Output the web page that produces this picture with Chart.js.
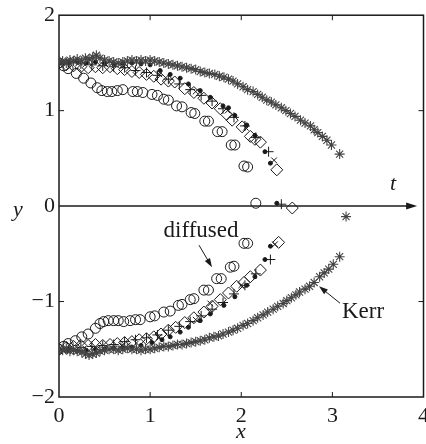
<!DOCTYPE html>
<html>
<head>
<meta charset="utf-8">
<script src="https://cdn.jsdelivr.net/npm/chart.js@4/dist/chart.umd.min.js"></script>
<style>
html,body{margin:0;padding:0;background:#fff;overflow:hidden;}
#wrap{position:relative;width:426px;height:444px;overflow:hidden;}
#c{position:absolute;left:0;top:0;}
</style>
</head>
<body>
<div id="wrap"><canvas id="c" width="426" height="444"></canvas></div>
<script>
// ---- data ----
const xTicks = [0, 1, 2, 3, 4];
const yTicks = [-2, -1, 0, 1, 2];

const diffusedTop = [[0.00,1.50],[0.05,1.47],[0.10,1.44],[0.19,1.39],[0.27,1.34],[0.35,1.29],[0.42,1.24],[0.47,1.21],[0.53,1.20],[0.58,1.20],[0.64,1.21],[0.70,1.22],[0.81,1.20],[0.86,1.20],[0.92,1.19],[1.02,1.17],[1.08,1.16],[1.15,1.12],[1.20,1.11],[1.29,1.05],[1.35,1.04],[1.45,0.98],[1.49,0.97],[1.60,0.89],[1.64,0.89],[1.74,0.78],[1.79,0.78],[1.89,0.64],[1.93,0.64],[2.03,0.42],[2.07,0.41],[2.16,0.03]];
const diffusedBottom = [[0.00,-1.50],[0.05,-1.47],[0.10,-1.44],[0.18,-1.41],[0.25,-1.37],[0.32,-1.34],[0.40,-1.28],[0.45,-1.23],[0.49,-1.21],[0.54,-1.20],[0.60,-1.20],[0.65,-1.20],[0.71,-1.21],[0.78,-1.20],[0.84,-1.19],[0.89,-1.19],[1.00,-1.16],[1.05,-1.15],[1.15,-1.11],[1.22,-1.10],[1.31,-1.04],[1.35,-1.03],[1.44,-0.98],[1.48,-0.97],[1.59,-0.88],[1.64,-0.88],[1.73,-0.76],[1.78,-0.76],[1.88,-0.64],[1.92,-0.63],[2.03,-0.39],[2.07,-0.39]];

const kerrTop = [[0.00,1.51],[0.04,1.52],[0.08,1.50],[0.12,1.53],[0.16,1.52],[0.20,1.54],[0.25,1.52],[0.29,1.55],[0.33,1.54],[0.37,1.56],[0.41,1.58],[0.45,1.55],[0.50,1.53],[0.55,1.52],[0.60,1.51],[0.65,1.50],[0.70,1.51],[0.75,1.52],[0.80,1.53],[0.85,1.52],[0.90,1.53],[0.95,1.52],[1.00,1.53],[1.05,1.52],[1.10,1.51],[1.15,1.50],[1.20,1.49],[1.25,1.48],[1.30,1.47],[1.35,1.46],[1.40,1.45],[1.45,1.44],[1.50,1.43],[1.55,1.41],[1.60,1.40],[1.65,1.39],[1.71,1.38],[1.76,1.36],[1.81,1.35],[1.86,1.33],[1.91,1.31],[1.96,1.28],[2.02,1.25],[2.07,1.22],[2.13,1.20],[2.18,1.17],[2.23,1.14],[2.28,1.11],[2.33,1.09],[2.38,1.06],[2.44,1.03],[2.49,1.00],[2.54,0.97],[2.59,0.94],[2.65,0.90],[2.70,0.87],[2.76,0.84],[2.80,0.80],[2.84,0.77],[2.89,0.73],[2.94,0.69],[2.99,0.64],[3.08,0.545],[3.15,-0.11]];
const kerrBottom = [[0.00,-1.50],[0.04,-1.51],[0.08,-1.49],[0.12,-1.52],[0.16,-1.51],[0.20,-1.52],[0.25,-1.53],[0.29,-1.55],[0.33,-1.56],[0.37,-1.55],[0.41,-1.54],[0.45,-1.52],[0.50,-1.51],[0.55,-1.50],[0.60,-1.50],[0.65,-1.51],[0.70,-1.50],[0.75,-1.49],[0.80,-1.50],[0.85,-1.50],[0.90,-1.51],[0.95,-1.50],[1.00,-1.50],[1.05,-1.49],[1.10,-1.48],[1.15,-1.47],[1.20,-1.47],[1.25,-1.46],[1.30,-1.45],[1.35,-1.45],[1.40,-1.44],[1.45,-1.43],[1.50,-1.42],[1.55,-1.41],[1.60,-1.40],[1.65,-1.38],[1.70,-1.37],[1.75,-1.36],[1.80,-1.34],[1.86,-1.32],[1.91,-1.30],[1.96,-1.28],[2.02,-1.25],[2.07,-1.23],[2.13,-1.20],[2.18,-1.17],[2.24,-1.14],[2.29,-1.11],[2.35,-1.08],[2.40,-1.05],[2.46,-1.02],[2.50,-0.99],[2.55,-0.96],[2.60,-0.93],[2.64,-0.90],[2.70,-0.87],[2.75,-0.84],[2.80,-0.80],[2.86,-0.74],[2.91,-0.70],[2.96,-0.66],[3.01,-0.61],[3.08,-0.53]];

const dotsTop = [[0.00,1.50],[0.10,1.51],[0.20,1.52],[0.30,1.50],[0.40,1.51],[0.50,1.50],[0.60,1.49],[0.70,1.50],[0.80,1.50],[0.90,1.49],[1.00,1.48],[1.11,1.42],[1.22,1.38],[1.33,1.34],[1.42,1.28],[1.55,1.21],[1.66,1.14],[1.80,1.05],[1.86,1.03],[1.93,0.95],[2.06,0.85],[2.15,0.74],[2.26,0.57],[2.32,0.45],[2.39,0.03]];
const dotsBottom = [[0.00,-1.50],[0.10,-1.51],[0.20,-1.52],[0.30,-1.51],[0.40,-1.50],[0.50,-1.50],[0.60,-1.49],[0.70,-1.49],[0.80,-1.48],[0.90,-1.46],[1.02,-1.43],[1.13,-1.40],[1.22,-1.37],[1.33,-1.32],[1.42,-1.27],[1.55,-1.20],[1.66,-1.13],[1.81,-1.04],[1.93,-0.95],[2.06,-0.83],[2.15,-0.74],[2.26,-0.56],[2.32,-0.42]];

const diamondsTop = [[0.00,1.50],[0.08,1.48],[0.16,1.47],[0.24,1.46],[0.32,1.45],[0.40,1.46],[0.48,1.45],[0.56,1.46],[0.64,1.44],[0.72,1.43],[0.80,1.41],[0.88,1.40],[0.96,1.38],[1.04,1.36],[1.12,1.33],[1.20,1.31],[1.27,1.30],[1.38,1.23],[1.48,1.19],[1.59,1.13],[1.68,1.08],[1.77,1.02],[1.84,0.96],[1.90,0.90],[2.01,0.83],[2.10,0.73],[2.15,0.70],[2.21,0.67],[2.39,0.38],[2.56,-0.02]];
const diamondsBottom = [[0.00,-1.50],[0.08,-1.48],[0.16,-1.47],[0.24,-1.46],[0.32,-1.46],[0.40,-1.45],[0.48,-1.46],[0.56,-1.45],[0.64,-1.44],[0.72,-1.43],[0.80,-1.42],[0.88,-1.40],[0.96,-1.39],[1.04,-1.37],[1.12,-1.34],[1.20,-1.30],[1.28,-1.27],[1.38,-1.22],[1.48,-1.17],[1.59,-1.11],[1.68,-1.05],[1.77,-0.98],[1.86,-0.91],[1.95,-0.84],[2.03,-0.80],[2.10,-0.74],[2.21,-0.67],[2.41,-0.38]];

const plusTop = [[0.00,1.50],[0.12,1.50],[0.24,1.49],[0.36,1.48],[0.48,1.47],[0.60,1.46],[0.72,1.45],[0.84,1.42],[0.96,1.40],[1.08,1.37],[1.20,1.33],[1.32,1.28],[1.44,1.22],[1.56,1.16],[1.68,1.10],[1.80,1.02],[1.92,0.93],[2.04,0.84],[2.16,0.72],[2.30,0.57],[2.44,0.02]];
const plusBottom = [[0.00,-1.50],[0.12,-1.49],[0.24,-1.48],[0.36,-1.47],[0.48,-1.46],[0.60,-1.45],[0.72,-1.42],[0.84,-1.40],[0.96,-1.38],[1.08,-1.35],[1.20,-1.30],[1.32,-1.26],[1.44,-1.21],[1.56,-1.15],[1.68,-1.08],[1.80,-1.01],[1.92,-0.92],[2.04,-0.83],[2.16,-0.71],[2.32,-0.56]];

const crossTop = [[0.70,1.47],[1.10,1.38],[1.50,1.20],[1.85,1.00],[2.05,0.82],[2.36,0.48]];
const crossBottom = [[0.70,-1.46],[1.10,-1.37],[1.50,-1.19],[1.66,-1.02],[2.00,-0.83],[2.37,-0.40]];

// ---- chart ----
const ink = '#1a1a1a';
const serif = "'Liberation Serif','Times New Roman',serif";
const target = {left: 59, top: 15, right: 423, bottom: 397};

function pts(a){ return a.map(p => ({x:p[0], y:p[1]})); }

const overlay = {
  id: 'overlay',
  beforeDatasetsDraw(chart){
    const {ctx, chartArea:a, scales:{x, y}} = chart;
    ctx.save();
    ctx.strokeStyle = ink;
    ctx.lineWidth = 1.5;
    ctx.strokeRect(a.left, a.top, a.right - a.left, a.bottom - a.top);
    ctx.lineWidth = 1;
    const tl = 5;
    xTicks.forEach(v => {
      if (v <= 0 || v >= 4) return;
      const px = x.getPixelForValue(v);
      ctx.beginPath();
      ctx.moveTo(px, a.bottom); ctx.lineTo(px, a.bottom - tl);
      ctx.moveTo(px, a.top); ctx.lineTo(px, a.top + tl);
      ctx.stroke();
    });
    yTicks.forEach(v => {
      if (v <= -2 || v >= 2 || v === 0) return;
      const py = y.getPixelForValue(v);
      ctx.beginPath();
      ctx.moveTo(a.left, py); ctx.lineTo(a.left + tl, py);
      ctx.moveTo(a.right, py); ctx.lineTo(a.right - tl, py);
      ctx.stroke();
    });
    // t axis arrow
    const y0 = y.getPixelForValue(0);
    const tip = x.getPixelForValue(3.93);
    ctx.lineWidth = 1.5;
    ctx.beginPath();
    ctx.moveTo(a.left, y0); ctx.lineTo(tip - 6, y0);
    ctx.stroke();
    ctx.fillStyle = ink;
    ctx.beginPath();
    ctx.moveTo(tip, y0); ctx.lineTo(tip - 11, y0 - 3.5); ctx.lineTo(tip - 11, y0 + 3.5);
    ctx.closePath(); ctx.fill();
    ctx.restore();
  },
  afterDraw(chart){
    const {ctx, chartArea:a} = chart;
    const ox = a.left - target.left, oy = a.top - target.top;
    ctx.save();
    ctx.translate(ox, oy);
    ctx.fillStyle = ink;
    ctx.strokeStyle = ink;
    ctx.textBaseline = 'alphabetic';
    ctx.font = "italic 22px " + serif;
    ctx.textAlign = 'center';
    ctx.fillText('y', 18, 216);
    ctx.fillText('x', 241, 438);
    ctx.fillText('t', 393, 190);
    ctx.font = "23px " + serif;
    ctx.fillText('diffused', 201, 237);
    ctx.textAlign = 'left';
    ctx.fillText('Kerr', 342, 318);
    function arrow(x1, y1, x2, y2){
      ctx.lineWidth = 1;
      const ang = Math.atan2(y2 - y1, x2 - x1);
      ctx.beginPath();
      ctx.moveTo(x1, y1); ctx.lineTo(x2 - 5*Math.cos(ang), y2 - 5*Math.sin(ang));
      ctx.stroke();
      const L = 9, W = 3;
      ctx.beginPath();
      ctx.moveTo(x2, y2);
      ctx.lineTo(x2 - L*Math.cos(ang) + W*Math.sin(ang), y2 - L*Math.sin(ang) - W*Math.cos(ang));
      ctx.lineTo(x2 - L*Math.cos(ang) - W*Math.sin(ang), y2 - L*Math.sin(ang) + W*Math.cos(ang));
      ctx.closePath(); ctx.fill();
    }
    arrow(199, 245, 212, 267);
    arrow(340, 303, 319, 286);
    ctx.restore();
  }
};

const base = {showLine:false, pointBorderWidth:1, pointHoverRadius:0};
function makeConfig(){
  return {
  type: 'scatter',
  data: {
    datasets: [
      Object.assign({}, base, {label:'Kerr', data: pts(kerrTop.concat(kerrBottom)), pointStyle:'star', pointRadius:5, pointBorderWidth:1.1, borderColor:'#444', backgroundColor:'#444'}),
      Object.assign({}, base, {label:'diamond', data: pts(diamondsTop.concat(diamondsBottom)), pointStyle:'rectRot', pointRadius:6, borderColor:ink, backgroundColor:'rgba(0,0,0,0)'}),
      Object.assign({}, base, {label:'plus', data: pts(plusTop.concat(plusBottom)), pointStyle:'cross', pointRadius:5, borderColor:ink, backgroundColor:ink}),
      Object.assign({}, base, {label:'x', data: pts(crossTop.concat(crossBottom)), pointStyle:'crossRot', pointRadius:4, borderColor:ink, backgroundColor:ink}),
      Object.assign({}, base, {label:'dot', data: pts(dotsTop.concat(dotsBottom)), pointStyle:'circle', pointRadius:2, borderColor:ink, backgroundColor:ink}),
      Object.assign({}, base, {label:'diffused', data: pts(diffusedTop.concat(diffusedBottom)), pointStyle:'circle', pointRadius:5, borderColor:ink, backgroundColor:'rgba(0,0,0,0)'})
    ]
  },
  options: {
    responsive: false,
    animation: false,
    devicePixelRatio: 1,
    events: [],
    layout: {padding: {left: 0, right: 0, top: 15, bottom: 0}},
    plugins: {legend: {display:false}, tooltip: {enabled:false}},
    scales: {
      x: {
        type: 'linear', min: 0, max: 4,
        grid: {display:false, drawTicks:false},
        border: {display:false},
        afterBuildTicks(s){ s.ticks = xTicks.map(v => ({value:v})); },
        afterFit(s){ s.height = 47; },
        ticks: {color: ink, padding: 6, font: {family: serif, size: 22}, maxRotation: 0,
          callback: v => String(v).replace('-', '\u2212')}
      },
      y: {
        type: 'linear', min: -2, max: 2,
        grid: {display:false, drawTicks:false},
        border: {display:false},
        afterBuildTicks(s){ s.ticks = yTicks.map(v => ({value:v})); },
        afterFit(s){ s.width = 59; },
        ticks: {color: ink, padding: 4, font: {family: serif, size: 22},
          callback: v => String(v).replace('-', '\u2212')}
      }
    }
  },
  plugins: [overlay]
  };
}

const canvas = document.getElementById('c');
let chart = new Chart(canvas, makeConfig());
// size the canvas so that the plot box lands where it is in the reference
let a = chart.chartArea;
const wantW = target.right - target.left, wantH = target.bottom - target.top;
const newW = Math.round(426 + (wantW - (a.right - a.left)));
const newH = Math.round(444 + (wantH - (a.bottom - a.top)));
if (newW !== 426 || newH !== 444) {
  chart.destroy();
  canvas.width = newW; canvas.height = newH;
  canvas.style.width = newW + 'px'; canvas.style.height = newH + 'px';
  chart = new Chart(canvas, makeConfig());
  a = chart.chartArea;
}
canvas.style.left = (target.left - a.left) + 'px';
canvas.style.top = (target.top - a.top) + 'px';
</script>
</body>
</html>
